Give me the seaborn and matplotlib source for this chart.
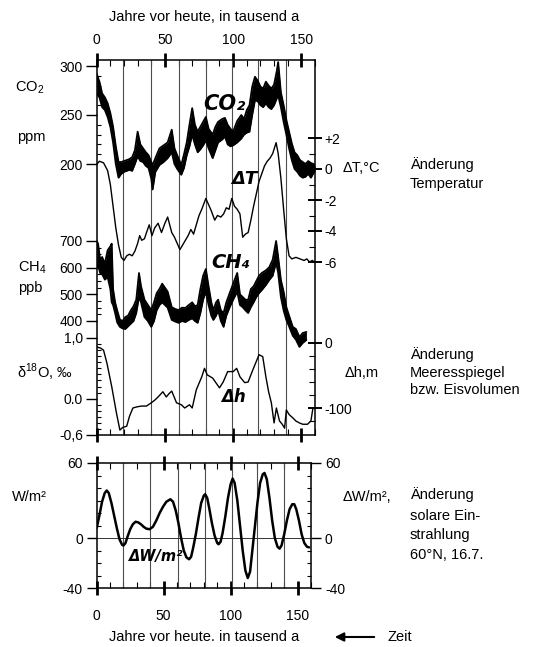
import numpy as np
import pandas as pd
import matplotlib
matplotlib.use("Agg")
import matplotlib.pyplot as plt
from matplotlib.ticker import FixedLocator, MultipleLocator
import seaborn as sns

# ---------------- data (time axis: thousand years before present) ----------------
co2_kyr = [0, 2, 4, 6, 8, 10, 12, 14, 16, 18, 20, 22, 24, 26, 28, 30, 32, 34, 36, 38,
           40, 41, 43, 46, 49, 52, 55, 57, 59, 62, 64, 66, 68, 70, 72, 74, 76, 78, 80, 82,
           85, 87, 89, 92, 94, 96, 98, 100, 103, 106, 108, 110, 112, 114, 116, 118, 120, 122, 124, 126,
           128, 130, 132, 133, 135, 137, 139, 141, 143, 145, 147, 149, 151, 153, 155, 157, 159, 160]
co2_lo = [272, 268, 258, 255, 248, 238, 222, 200, 186, 190, 192, 193, 194, 193, 200, 208, 203, 202, 198, 196,
          185, 174, 192, 199, 202, 206, 212, 200, 195, 189, 196, 209, 218, 230, 220, 212, 215, 219, 224, 216,
          206, 214, 222, 225, 228, 220, 218, 219, 222, 226, 230, 232, 233, 250, 265, 264, 260, 258, 262, 258,
          256, 260, 267, 270, 258, 243, 230, 216, 204, 195, 192, 188, 186, 187, 190, 186, 191, 192]
co2_hi = [292, 284, 272, 268, 262, 252, 238, 218, 202, 202, 203, 204, 205, 207, 214, 233, 220, 216, 212, 209,
          202, 199, 206, 216, 219, 222, 235, 216, 209, 199, 210, 222, 240, 257, 240, 233, 238, 243, 248, 236,
          230, 238, 243, 246, 247, 240, 236, 233, 244, 250, 246, 255, 260, 279, 289, 285, 279, 277, 284, 280,
          277, 281, 295, 304, 273, 260, 245, 233, 221, 212, 209, 204, 202, 200, 203, 201, 200, 198]

dT_kyr = [0, 2, 5, 8, 10, 12, 14, 16, 18, 20, 22, 24, 26, 28, 30, 31.5, 33, 35, 36.5, 38.5,
          40.5, 42.5, 45, 47.5, 50, 52, 55, 57, 59, 61, 63, 65, 67, 69, 71, 73, 75, 77, 80, 82,
          84, 86.5, 88.5, 91, 93, 95, 97, 99, 101, 103, 105, 107, 109, 111, 113, 115, 117, 119, 121, 123,
          125, 127, 129, 131.5, 133, 135, 137, 139, 141, 143, 146, 149, 152, 154, 156, 158, 159.5]
dT_val = [0.3, 0.5, 0.4, -0.1, -1.0, -2.4, -3.8, -4.9, -5.7, -5.9, -5.6, -5.5, -5.6, -5.3, -4.8, -4.3, -4.6, -4.5, -4.1, -3.6,
          -4.3, -3.8, -3.5, -4.1, -3.5, -3.1, -4.1, -4.4, -4.8, -5.2, -4.9, -4.6, -4.3, -3.9, -4.2, -3.6, -3.0, -2.6, -1.9, -2.3,
          -2.7, -3.3, -3.0, -3.1, -2.9, -2.5, -2.6, -1.9, -2.4, -2.6, -2.9, -4.4, -4.2, -4.1, -3.3, -2.4, -1.6, -0.8, -0.3, 0.2,
          0.5, 0.7, 1.0, 1.7, 1.0, -0.6, -2.6, -4.5, -5.6, -5.8, -5.7, -5.8, -5.9, -5.8, -6.0, -5.9, -6.0]

ch4_kyr = [0, 1, 2.5, 4, 6, 8, 10, 11, 12, 13.5, 15, 17, 19, 21, 23, 25, 27, 29, 31, 32.5,
           35, 37.5, 40, 42, 44, 46, 48, 50, 52, 55, 57.5, 60, 62.5, 65, 67.5, 70, 72, 74, 76, 78,
           80, 82, 84, 85.5, 87.5, 89, 91, 93, 95, 97.5, 100, 103, 105, 107, 109, 111, 113, 115, 117, 119,
           121, 124, 126.5, 129, 131.5, 133, 135, 137, 139, 141, 143.7, 146, 148.6, 151, 153.7]
ch4_lo = [600, 610, 580, 575, 555, 565, 520, 470, 460, 430, 395, 378, 372, 370, 380, 390, 400, 430, 490, 470,
          415, 400, 378, 400, 441, 460, 470, 460, 450, 404, 398, 393, 400, 396, 404, 410, 400, 393, 430, 480,
          510, 460, 420, 404, 420, 440, 400, 378, 420, 452, 480, 510, 460, 452, 440, 430, 452, 470, 490, 505,
          516, 535, 554, 570, 620, 580, 490, 440, 404, 380, 345, 330, 303, 318, 329]
ch4_hi = [700, 690, 630, 640, 615, 665, 680, 690, 520, 470, 440, 405, 400, 415, 420, 440, 455, 480, 580, 530,
          480, 460, 441, 470, 505, 520, 540, 525, 510, 452, 445, 441, 450, 449, 460, 470, 455, 460, 520, 570,
          595, 530, 470, 441, 470, 480, 440, 430, 470, 505, 540, 580, 500, 490, 480, 479, 520, 530, 550, 570,
          580, 590, 602, 630, 700, 640, 554, 510, 452, 420, 378, 370, 340, 355, 359]

dh_kyr = [0, 3, 5, 7.5, 11, 14.5, 17, 19, 22, 24, 26.5, 30, 33, 36.5, 40, 42.5, 45, 48.5, 51, 53,
          55, 58.5, 62, 64.5, 68, 70, 73, 77, 79, 81, 85, 90, 92.7, 96, 100, 102.6, 105, 108.5, 111, 114.5,
          119, 121.7, 124, 126, 128, 130, 131.7, 134, 136, 137.7, 139, 141, 143.6, 146, 148.6, 151, 154.5, 157, 158.5]
dh_val = [-6, -8, -11, -31, -67, -108, -134, -130, -128, -113, -100, -98, -97, -97, -92, -88, -83, -75, -83, -78,
          -74, -92, -95, -100, -95, -100, -72, -52, -39, -49, -54, -69, -60, -44, -44, -39, -52, -61, -60, -41,
          -18, -21, -52, -75, -92, -123, -100, -120, -125, -131, -103, -110, -115, -120, -123, -125, -125, -120, -100]

dw_kyr = [0, 2, 4, 6, 7.5, 9, 11, 13, 15, 17, 19, 20, 21.5, 23, 25, 27, 29, 31, 33, 35,
          37, 39.5, 42, 44.5, 47, 49.5, 52, 55, 57, 59, 61, 63, 65, 67, 69, 70.5, 72, 74, 76, 78,
          80, 81, 82.5, 84, 86, 88, 90, 91, 92.5, 94, 96, 98, 100, 101.5, 103, 105, 107, 109, 111, 112.8,
          114.5, 116, 118, 120, 122, 124, 125.3, 127, 129, 131, 133, 135, 136.5, 138, 140, 142, 144, 146, 147.5, 149,
          151, 153, 155, 157, 158.6]
dw_val = [8, 18, 29, 36, 38, 36, 28, 18, 8, -1, -5.5, -6, -4, 1, 7, 11, 13, 12.5, 11, 9,
          7.5, 7, 9, 14, 20, 25, 29, 31, 29, 22, 12, 0, -10, -15.5, -17, -15, -8, 3, 16, 28,
          34, 35, 32, 24, 12, 2, -4, -5, -3, 4, 17, 32, 43, 47.5, 44, 30, 10, -10, -26, -32,
          -27, -12, 8, 28, 44, 51, 52, 47, 32, 14, 0, -7, -8.5, -6, 3, 14, 23, 27, 27, 23,
          14, 3, -4, -7, -7.5]

x_ticks = [0, 50, 100, 150]
stage_lines_upper = [19, 40, 60, 80, 99, 118, 139]
stage_lines_lower = [20, 40, 61, 81, 101, 120, 140]

co2 = pd.DataFrame({"kyr": co2_kyr, "lo": co2_lo, "hi": co2_hi})
ch4 = pd.DataFrame({"kyr": ch4_kyr, "lo": ch4_lo, "hi": ch4_hi})
dT = pd.DataFrame({"kyr": dT_kyr, "val": dT_val})
dh = pd.DataFrame({"kyr": dh_kyr, "val": dh_val})
dw = pd.DataFrame({"kyr": dw_kyr, "val": dw_val})

# ---------------- figure / layout ----------------
W, H = 537, 647
sns.set_theme(style="ticks")
plt.rcParams["font.family"] = ["Liberation Sans", "DejaVu Sans"]
plt.rcParams["mathtext.fontset"] = "custom"
plt.rcParams["mathtext.rm"] = "Liberation Sans"
plt.rcParams["axes.linewidth"] = 1.1
for key in ("text.color", "axes.labelcolor", "xtick.color", "ytick.color", "axes.edgecolor"):
    plt.rcParams[key] = "black"

fig = plt.figure(figsize=(W / 100, H / 100), dpi=100)
fig.patch.set_facecolor("white")

UP = (96.7, 60, 315, 435)    # left, top, right, bottom in pixels
LO = (96.7, 463, 311, 588)


def rect(l, t, r, b):
    return [l / W, 1 - b / H, (r - l) / W, (b - t) / H]


def ylim_px(v1, p1, v2, p2, box):
    top, bot = box[1], box[3]
    f1 = (bot - p1) / (bot - top)
    f2 = (bot - p2) / (bot - top)
    s = (v1 - v2) / (f1 - f2)
    lo = v1 - s * f1
    return lo, lo + s


TS = 10      # tick label size
ax = fig.add_axes(rect(*UP))
axT = ax.twinx()
axM = ax.twinx()
axD = ax.twinx()
axH = ax.twinx()
for a in (axT, axM, axD, axH):
    for sp in a.spines.values():
        sp.set_visible(False)

ax.set_xlim(0, 160)
ax.set_ylim(*ylim_px(300, 66, 200, 164, UP))
axT.set_ylim(*ylim_px(0, 169, -6, 262, UP))
axM.set_ylim(*ylim_px(700, 241, 400, 321, UP))
axD.set_ylim(*ylim_px(1.0, 338, -0.6, 435, UP))
axH.set_ylim(*ylim_px(0, 343, -100, 408, UP))

# vertical reference lines
for xv in stage_lines_upper:
    ax.axvline(xv, color="0.3", lw=0.8, zorder=1)

# CO2 band
ax.fill_between(co2["kyr"], co2["lo"], co2["hi"], color="black", lw=0, zorder=3)
sns.lineplot(data=co2, x="kyr", y="lo", ax=ax, color="black", lw=1.3, sort=False, estimator=None, zorder=3)
sns.lineplot(data=co2, x="kyr", y="hi", ax=ax, color="black", lw=1.3, sort=False, estimator=None, zorder=3)
# temperature change
sns.lineplot(data=dT, x="kyr", y="val", ax=axT, color="black", lw=1.0, sort=False, estimator=None)
# CH4 band
axM.fill_between(ch4["kyr"], ch4["lo"], ch4["hi"], color="black", lw=0)
sns.lineplot(data=ch4, x="kyr", y="lo", ax=axM, color="black", lw=1.3, sort=False, estimator=None)
sns.lineplot(data=ch4, x="kyr", y="hi", ax=axM, color="black", lw=1.3, sort=False, estimator=None)
# sea level change
sns.lineplot(data=dh, x="kyr", y="val", ax=axH, color="black", lw=1.0, sort=False, estimator=None)

for a in (ax, axT, axM, axD, axH):
    a.set_xlabel("")
    a.set_ylabel("")
ax.set_xlim(0, 160)

# x axis of upper panel
ax.xaxis.set_ticks_position("both")
ax.set_xticks(x_ticks)
ax.set_xticklabels([str(v) for v in x_ticks])
ax.xaxis.set_minor_locator(MultipleLocator(10))
ax.tick_params(axis="x", which="major", top=True, bottom=True, labeltop=True, labelbottom=False,
               direction="inout", length=10, width=2, pad=4, labelsize=TS)
ax.tick_params(axis="x", which="minor", top=True, bottom=True, direction="in", length=4, width=0.8)

# CO2 axis (left)
ax.yaxis.set_ticks_position("left")
ax.set_yticks([200, 250, 300])
ax.yaxis.set_minor_locator(FixedLocator(np.arange(200, 301, 10)))
ax.tick_params(axis="y", which="major", direction="out", length=8, width=1, pad=2, labelsize=TS)
ax.tick_params(axis="y", which="minor", direction="in", length=3, width=0.8)

# temperature axis (right)
axT.yaxis.set_ticks_position("right")
axT.set_yticks([2, 0, -2, -4, -6])
axT.set_yticklabels(["+2", "0", "-2", "-4", "-6"])
axT.yaxis.set_minor_locator(FixedLocator([1, -1, -3, -5]))
axT.tick_params(axis="y", which="major", direction="inout", length=10, width=1.4, pad=2, labelsize=TS)
axT.tick_params(axis="y", which="minor", direction="in", length=4, width=0.8)

# CH4 axis (left)
axM.yaxis.set_ticks_position("left")
axM.yaxis.set_label_position("left")
axM.set_yticks([400, 500, 600, 700])
axM.yaxis.set_minor_locator(FixedLocator(np.arange(400, 701, 25)))
axM.tick_params(axis="y", which="major", direction="out", length=8, width=1, pad=2, labelsize=TS,
                left=True, right=False, labelleft=True, labelright=False)
axM.tick_params(axis="y", which="minor", direction="in", length=3, width=0.8, left=True, right=False)

# delta-18O axis (left)
axD.yaxis.set_ticks_position("left")
axD.set_yticks([1.0, 0.0, -0.6])
axD.set_yticklabels(["1,0", "0.0", "-0,6"])
axD.yaxis.set_minor_locator(FixedLocator(np.round(np.arange(-0.6, 1.01, 0.1), 2)))
axD.tick_params(axis="y", which="major", direction="out", length=8, width=1, pad=2, labelsize=TS,
                left=True, right=False, labelleft=True, labelright=False)
axD.tick_params(axis="y", which="minor", direction="in", length=3, width=0.8, left=True, right=False)

# sea level axis (right)
axH.yaxis.set_ticks_position("right")
axH.set_yticks([0, -100])
axH.set_yticklabels(["0", "-100"])
axH.yaxis.set_minor_locator(FixedLocator([-20, -40, -60, -80, -120]))
axH.tick_params(axis="y", which="major", direction="inout", length=10, width=1.4, pad=2, labelsize=TS)
axH.tick_params(axis="y", which="minor", direction="in", length=4, width=0.8)

# ---------------- lower panel: insolation ----------------
axW = fig.add_axes(rect(*LO))
axW.set_xlim(0, 160)
axW.set_ylim(-40, 60)
for xv in stage_lines_lower:
    axW.axvline(xv, color="0.3", lw=0.8, zorder=1)
axW.axhline(0, color="0.2", lw=0.7, zorder=1)
sns.lineplot(data=dw, x="kyr", y="val", ax=axW, color="black", lw=1.8, sort=False, estimator=None)
axW.set_xlabel("")
axW.set_ylabel("")
axW.xaxis.set_ticks_position("both")
axW.set_xticks(x_ticks)
axW.set_xticklabels([str(v) for v in x_ticks])
axW.xaxis.set_minor_locator(MultipleLocator(10))
axW.tick_params(axis="x", which="major", top=True, bottom=True, labeltop=False, labelbottom=True,
                direction="inout", length=10, width=2, pad=10, labelsize=TS)
axW.tick_params(axis="x", which="minor", top=True, bottom=True, direction="in", length=4, width=0.8)
axW.yaxis.set_ticks_position("both")
axW.set_yticks([60, 0, -40])
axW.set_yticklabels(["60", "0", "-40"])
axW.yaxis.set_minor_locator(MultipleLocator(10))
axW.tick_params(axis="y", which="major", left=True, right=True, labelleft=True, labelright=True,
                direction="out", length=7, width=1, pad=3, labelsize=TS)
axW.tick_params(axis="y", which="minor", left=True, right=True, direction="in", length=3, width=0.8)


# ---------------- text ----------------
def ftext(x, y, s, **kw):
    kw.setdefault("fontsize", 10.5)
    kw.setdefault("va", "center")
    kw.setdefault("ha", "left")
    kw.setdefault("color", "black")
    fig.text(x / W, 1 - y / H, s, **kw)


ftext(204, 17, "Jahre vor heute, in tausend a", ha="center")
ftext(204, 637, "Jahre vor heute. in tausend a", ha="center")

ftext(15, 88, "CO$_2$")
ftext(17, 137, "ppm")
ftext(18, 268, "CH$_4$")
ftext(18, 288, "ppb")
ftext(17, 372, "δ$^{18}$O, ‰")
ftext(12, 497, "W/m²")

ftext(343, 168, "ΔT,°C")
ftext(410, 165, "Änderung")
ftext(410, 184, "Temperatur")
ftext(345, 373, "Δh,m")
ftext(410, 355, "Änderung")
ftext(410, 373, "Meeresspiegel")
ftext(410, 390, "bzw. Eisvolumen")
ftext(343, 497, "ΔW/m²,")
ftext(410, 495, "Änderung")
ftext(410, 516, "solare Ein-")
ftext(410, 535, "strahlung")
ftext(410, 555, "60°N, 16.7.")

fig.add_artist(matplotlib.patches.FancyArrowPatch(
    (377 / W, 1 - 637 / H), (332 / W, 1 - 637 / H), transform=fig.transFigure,
    arrowstyle="-|>", mutation_scale=13, lw=1.5, color="black"))
ftext(387, 637, "Zeit")

# hand-lettered curve names
hand = dict(family=["DejaVu Sans"], fontweight="bold", fontstyle="italic", ha="center")
ftext(224, 104, "CO₂", fontsize=15, **hand)
ftext(244, 179, "ΔT", fontsize=13, **hand)
ftext(231, 263, "CH₄", fontsize=14, **hand)
ftext(233, 397, "Δh", fontsize=12, **hand)
ftext(156, 557, "ΔW/m²", fontsize=10.5, **hand)

fig.savefig("out.png", dpi=100, facecolor="white")
